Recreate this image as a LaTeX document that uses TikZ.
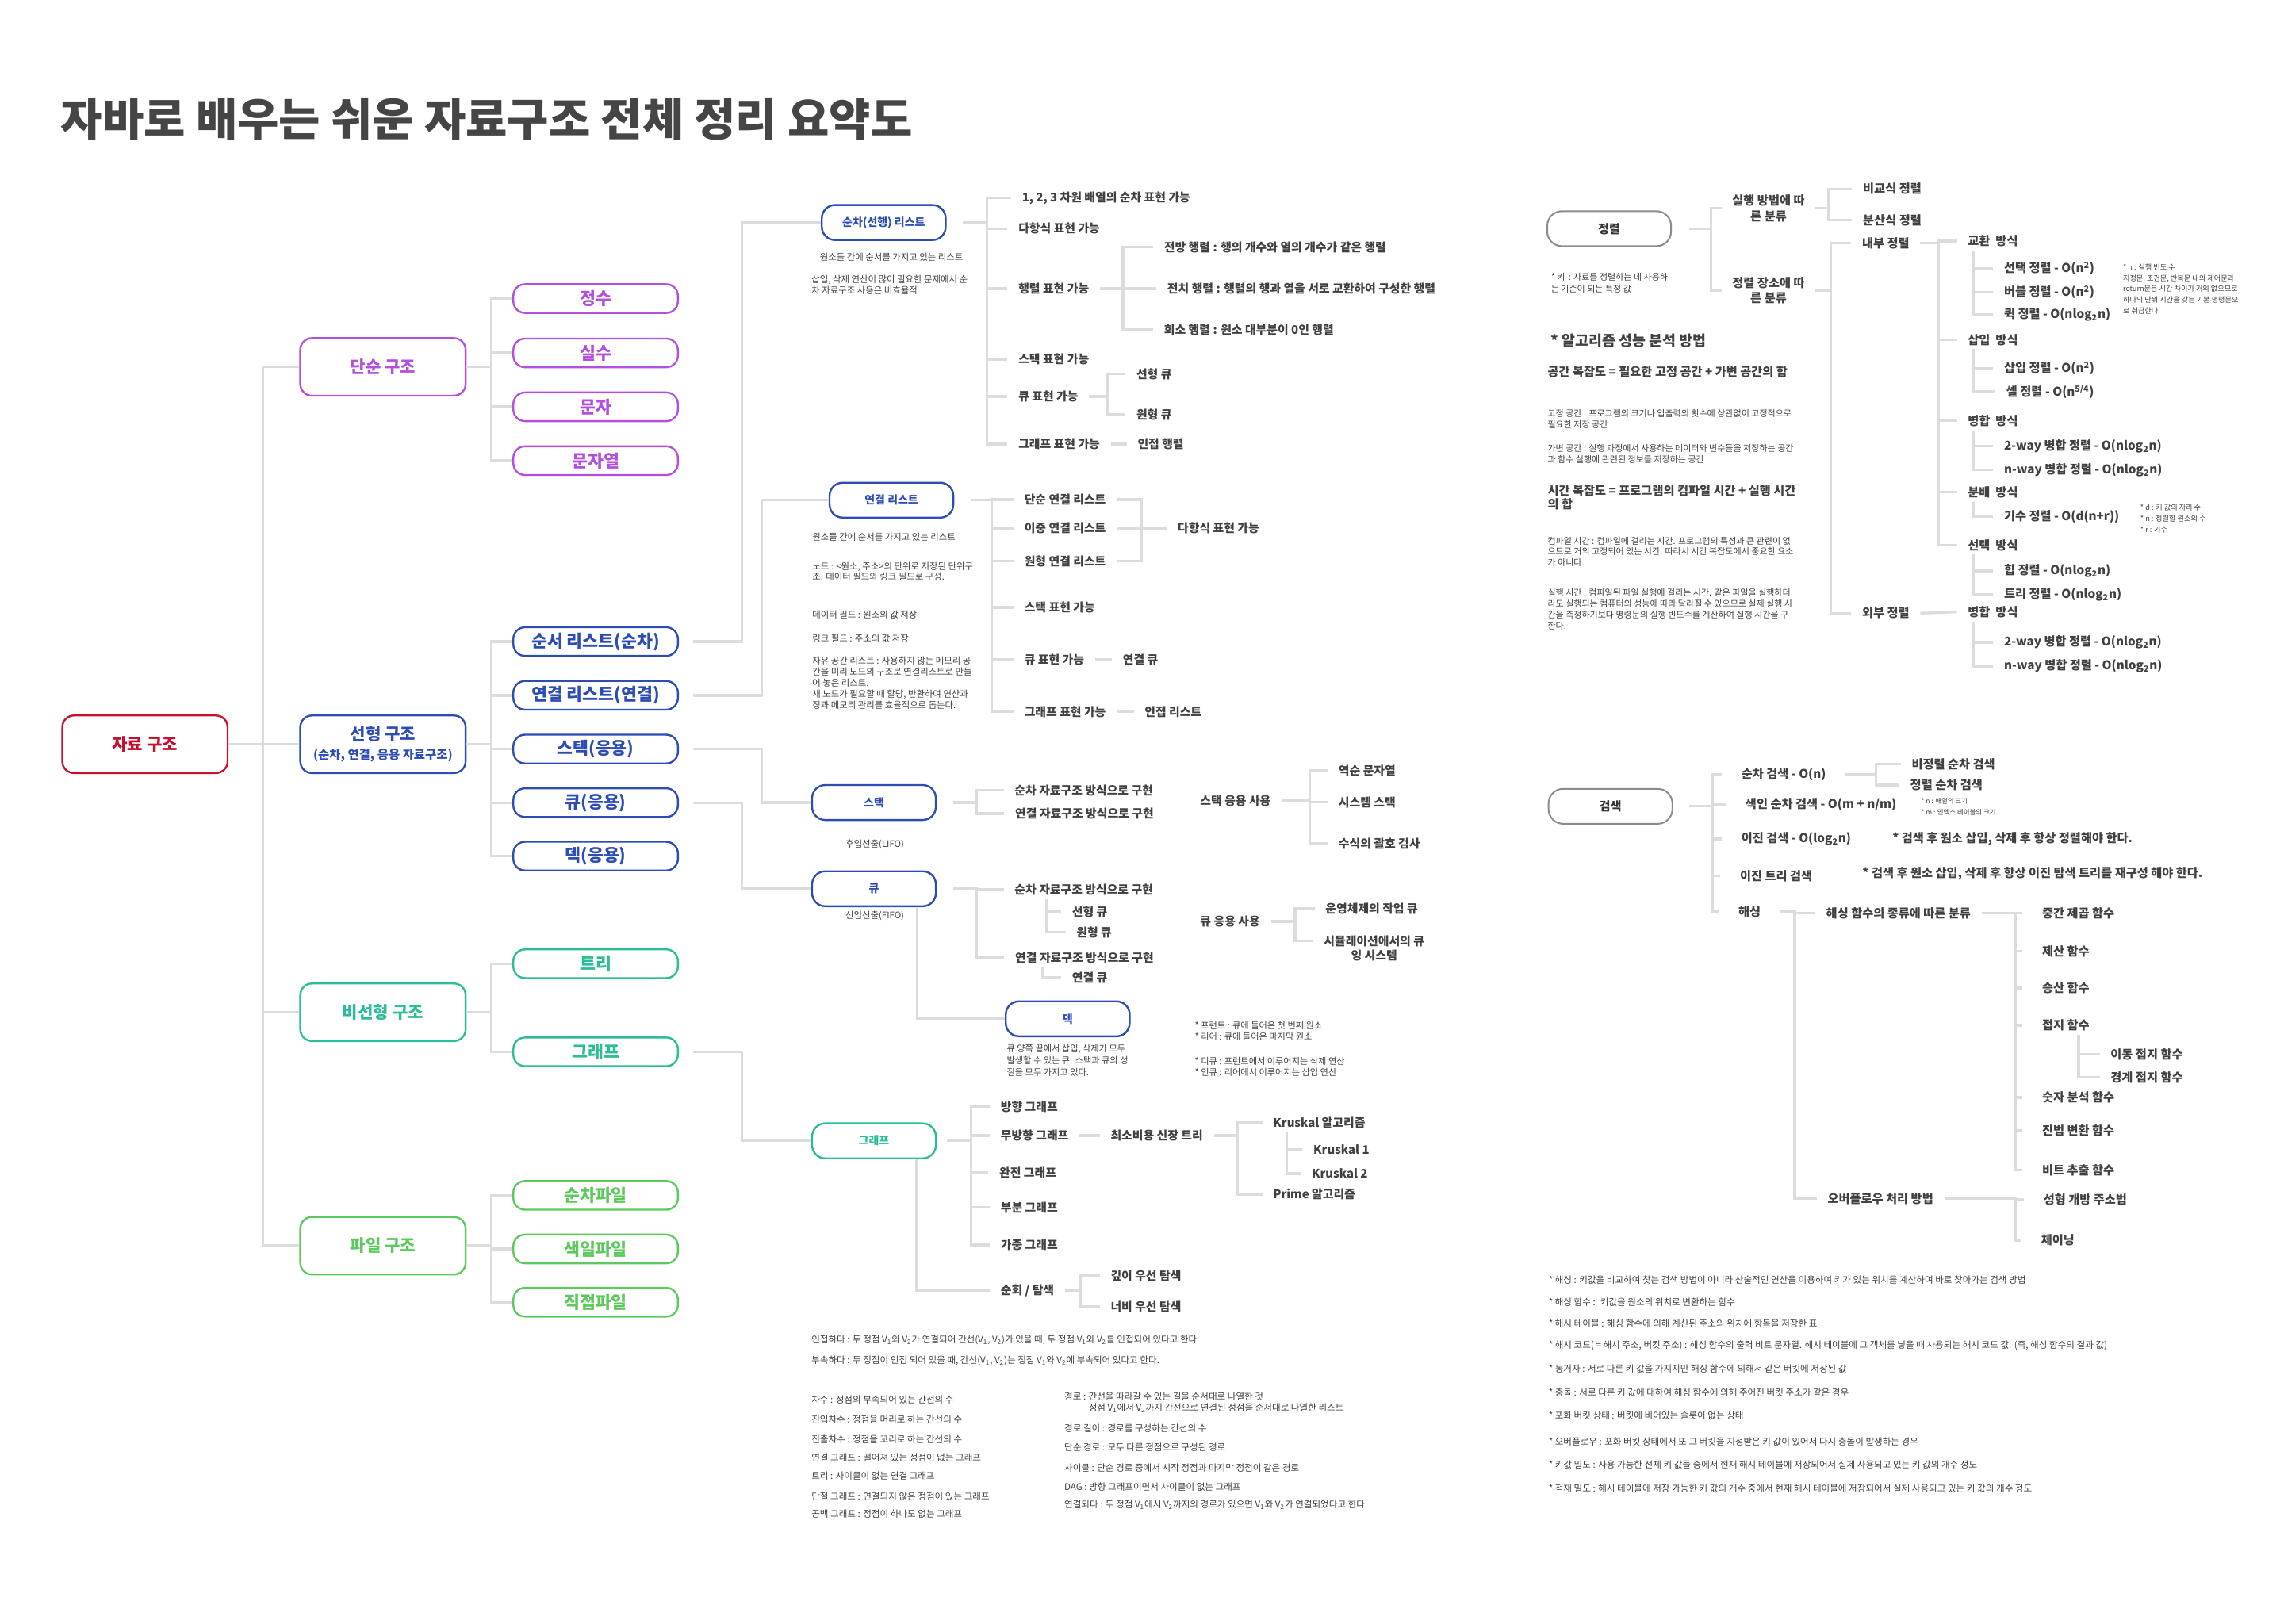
\documentclass[tikz,border=0pt]{standalone}
\usepackage{fontspec}
\setmainfont{Noto Sans CJK KR}
\definecolor{cred}{HTML}{C8102E}
\definecolor{cpur}{HTML}{B24FDE}
\definecolor{cblu}{HTML}{2D4DB5}
\definecolor{cteal}{HTML}{2BBD97}
\definecolor{cgrn}{HTML}{5BC95B}
\definecolor{lc}{HTML}{DCDCDC}
\definecolor{tc}{HTML}{404040}
\definecolor{gbd}{HTML}{8C8C8C}
\definecolor{gtx}{HTML}{333333}
\definecolor{ttl}{HTML}{454545}
\newcommand\brc[4][0pt]{\draw[cline] ([xshift=#1]#2.east) -- (#2.east -| #3) |- (#4.west);}
\newcommand\subbr[3]{\draw[cline] ([yshift=-2pt]#1.south -| #2) |- (#3.west);}
\newcommand\Vs[1]{V\textsubscript{#1}}
\newcommand\sq{\textsuperscript{2}}
\newcommand\lgn{nlog\textsubscript{2}n}
\begin{document}
\begin{tikzpicture}[x=1pt,y=-1pt,
 cline/.style={draw=lc, line width=1.8pt},
 lab/.style={anchor=west, inner sep=0.5pt, outer xsep=7pt, xshift=-7.5pt, text=tc, font=\fontsize{8.1}{10}\selectfont\bfseries},
 labr/.style={lab, font=\fontsize{8.3}{10.5}\selectfont\bfseries},
 labw/.style={labr, outer xsep=13pt, xshift=-13.5pt},
 note/.style={anchor=west, inner sep=0pt, align=left, text=tc, font=\fontsize{6.2}{7.5}\selectfont},
 hnote/.style={note, font=\fontsize{6.3}{7}\selectfont},
 box1/.style={draw, rounded corners=8pt, line width=1.3pt, minimum width=113.5pt, minimum height=39.5pt, inner sep=0pt, align=center, font=\fontsize{11.5}{13}\selectfont\bfseries},
 box2/.style={draw, rounded corners=8pt, line width=1.3pt, minimum width=113pt, minimum height=19.7pt, inner sep=0pt, font=\fontsize{11.8}{13}\selectfont\bfseries},
 box3/.style={draw=cblu, text=cblu, rounded corners=9pt, line width=1.3pt, minimum width=85pt, minimum height=24pt, inner sep=0pt, font=\fontsize{7.6}{9}\selectfont\bfseries},
 gbox/.style={box3, draw=gbd, text=gtx, rounded corners=10pt, line width=1.1pt, font=\fontsize{8.3}{9.6}\selectfont\bfseries}
]
\fill[white] (0,0) rectangle (1568,1115);
\path[use as bounding box] (0,0) rectangle (1568,1115);

% title
\node[anchor=west, inner sep=0pt, text=ttl, font=\fontsize{31}{34}\selectfont\bfseries] (title) at (41.7,81.6) {자바로 배우는 쉬운 자료구조 전체 정리 요약도};

% ---------- left tree ----------
\node[box1, draw=cred, text=cred] (root) at (99.5,511) {자료 구조};
\node[box1, draw=cpur, text=cpur] (simp) at (262.9,251.9) {단순 구조};
\node[box1, draw=cblu, text=cblu] (lin) at (262.9,511) {선형 구조\\{\fontsize{8.4}{9}\selectfont (순차, 연결, 응용 자료구조)}};
\node[box1, draw=cteal, text=cteal] (nonlin) at (262.9,695) {비선형 구조};
\node[box1, draw=cgrn, text=cgrn] (filest) at (262.9,855.3) {파일 구조};

\node[box2, draw=cpur, text=cpur] (int) at (408.9,205) {정수};
\node[box2, draw=cpur, text=cpur] (real) at (408.9,242.3) {실수};
\node[box2, draw=cpur, text=cpur] (chr) at (408.9,279.3) {문자};
\node[box2, draw=cpur, text=cpur] (str) at (408.9,316.3) {문자열};
\node[box2, draw=cblu, text=cblu] (ordl) at (408.9,440.5) {순서 리스트(순차)};
\node[box2, draw=cblu, text=cblu] (lnkl) at (408.9,477.4) {연결 리스트(연결)};
\node[box2, draw=cblu, text=cblu] (stk) at (408.9,514.3) {스택(응용)};
\node[box2, draw=cblu, text=cblu] (que) at (408.9,551.1) {큐(응용)};
\node[box2, draw=cblu, text=cblu] (deq) at (408.9,587.8) {덱(응용)};
\node[box2, draw=cteal, text=cteal] (tree) at (408.9,661.7) {트리};
\node[box2, draw=cteal, text=cteal] (grph) at (408.9,722.2) {그래프};
\node[box2, draw=cgrn, text=cgrn] (sfile) at (408.9,820.7) {순차파일};
\node[box2, draw=cgrn, text=cgrn] (ifile) at (408.9,857.5) {색일파일};
\node[box2, draw=cgrn, text=cgrn] (dfile) at (408.9,894.1) {직접파일};

\coordinate (Ta) at (180.6,0);
\coordinate (Tb) at (337.2,0);
\coordinate (Tc) at (509.5,0);
\coordinate (Td) at (522.8,0);
\brc{root}{Ta}{simp}
\brc{root}{Ta}{lin}
\brc{root}{Ta}{nonlin}
\brc{root}{Ta}{filest}
\brc{simp}{Tb}{int}
\brc{simp}{Tb}{real}
\brc{simp}{Tb}{chr}
\brc{simp}{Tb}{str}
\brc{lin}{Tb}{ordl}
\brc{lin}{Tb}{lnkl}
\brc{lin}{Tb}{stk}
\brc{lin}{Tb}{que}
\brc{lin}{Tb}{deq}
\brc{nonlin}{Tb}{tree}
\brc{nonlin}{Tb}{grph}
\brc{filest}{Tb}{sfile}
\brc{filest}{Tb}{ifile}
\brc{filest}{Tb}{dfile}

% ---------- level 3 boxes ----------
\node[box3] (seqbox) at (606.7,152.8) {순차(선행) 리스트};
\node[box3] (linkbox) at (612,343.4) {연결 리스트};
\node[box3] (stackbox) at (600,551) {스택};
\node[box3] (queuebox) at (600,610.2) {큐};
\node[box3] (dequebox) at (733,699.5) {덱};
\node[box3, draw=cteal, text=cteal] (graphbox) at (600,783.3) {그래프};
\brc[10pt]{ordl}{Tc}{seqbox}
\brc[10pt]{lnkl}{Td}{linkbox}
\brc[10pt]{stk}{Td}{stackbox}
\brc[10pt]{que}{Tc}{queuebox}
\brc[10pt]{grph}{Tc}{graphbox}

% sequential list
\node[note] (n1) at (562.7,176.4) {원소들 간에 순서를 가지고 있는 리스트};
\node[note, font=\fontsize{6.2}{7.3}\selectfont] (n2) at (557,195.6) {삽입, 삭제 연산이 많이 필요한 문제에서 순\\차 자료구조 사용은 비효율적};
\coordinate (T1) at (677.7,0);
\node[lab] (s1) at (701.7,136) {1, 2, 3 차원 배열의 순차 표현 가능};
\node[lab] (s2) at (699.2,157) {다항식 표현 가능};
\node[lab] (s3) at (699.2,198.2) {행렬 표현 가능};
\node[lab] (s4) at (699.2,246.8) {스택 표현 가능};
\node[lab] (s5) at (699.2,272.2) {큐 표현 가능};
\node[lab] (s6) at (699.2,304.9) {그래프 표현 가능};
\brc[11pt]{seqbox}{T1}{s1}
\brc[11pt]{seqbox}{T1}{s2}
\brc[11pt]{seqbox}{T1}{s3}
\brc[11pt]{seqbox}{T1}{s4}
\brc[11pt]{seqbox}{T1}{s5}
\brc[11pt]{seqbox}{T1}{s6}
\coordinate (T2) at (770.9,0);
\node[lab] (s3a) at (799.2,169.7) {전방 행렬 : 행의 개수와 열의 개수가 같은 행렬};
\node[lab] (s3b) at (801.4,198.2) {전치 행렬 : 행렬의 행과 열을 서로 교환하여 구성한 행렬};
\node[lab] (s3c) at (799.2,226.5) {회소 행렬 : 원소 대부분이 0인 행렬};
\brc{s3}{T2}{s3a}
\brc{s3}{T2}{s3b}
\brc{s3}{T2}{s3c}
\coordinate (T3) at (760.3,0);
\node[lab] (s5a) at (780.2,256.8) {선형 큐};
\node[lab] (s5b) at (780.2,284.6) {원형 큐};
\brc{s5}{T3}{s5a}
\brc{s5}{T3}{s5b}
\node[lab] (s6a) at (781,304.9) {인접 행렬};
\draw[cline] (s6.east) -- (s6a.west);

% linked list
\node[note] (n3) at (557.5,368.7) {원소들 간에 순서를 가지고 있는 리스트};
\node[note, font=\fontsize{6.2}{7.4}\selectfont] (n4) at (557.5,392.4) {노드 : <원소, 주소>의 단위로 저장된 단위구\\조. 데이터 필드와 링크 필드로 구성.};
\node[note] (n5) at (557.5,421.9) {데이터 필드 : 원소의 값 저장};
\node[note] (n6) at (557.5,438.6) {링크 필드 : 주소의 값 저장};
\node[note, font=\fontsize{6.2}{7.6}\selectfont] (n7) at (557.5,468.8) {자유 공간 리스트 : 사용하지 않는 메모리 공\\간을 미리 노드의 구조로 연결리스트로 만들\\어 놓은 리스트.\\새 노드가 필요할 때 할당, 반환하여 연산과\\정과 메모리 관리를 효율적으로 돕는다.};
\coordinate (T4) at (680.9,0);
\node[lab] (l1) at (703.3,343) {단순 연결 리스트};
\node[lab] (l2) at (703.3,362.6) {이중 연결 리스트};
\node[lab] (l3) at (703.3,385.2) {원형 연결 리스트};
\node[lab] (l4) at (703.3,417) {스택 표현 가능};
\node[lab] (l5) at (703.3,452.7) {큐 표현 가능};
\node[lab] (l6) at (703.3,488.7) {그래프 표현 가능};
\brc[11pt]{linkbox}{T4}{l1}
\brc[11pt]{linkbox}{T4}{l2}
\brc[11pt]{linkbox}{T4}{l3}
\brc[11pt]{linkbox}{T4}{l4}
\brc[11pt]{linkbox}{T4}{l5}
\brc[11pt]{linkbox}{T4}{l6}
\node[lab] (l5a) at (770.9,452.7) {연결 큐};
\node[lab] (l6a) at (785.8,488.7) {인접 리스트};
\draw[cline] (l5.east) -- (l5a.west);
\draw[cline] (l6.east) -- (l6a.west);
\coordinate (T5) at (783.7,0);
\node[lab] (l7) at (808.6,362.6) {다항식 표현 가능};
\brc{l1}{T5}{l7}
\brc{l2}{T5}{l7}
\brc{l3}{T5}{l7}

% stack
\node[note, anchor=center] (n8) at (600.6,580) {후입선출(LIFO)};
\coordinate (T6) at (670.6,0);
\node[lab] (st1) at (696.6,542.6) {순차 자료구조 방식으로 구현};
\node[lab] (st2) at (697,558.6) {연결 자료구조 방식으로 구현};
\brc[11pt]{stackbox}{T6}{st1}
\brc[11pt]{stackbox}{T6}{st2}
\node[lab] (sa) at (824,549.8) {스택 응용 사용};
\coordinate (T7) at (899,0);
\node[lab] (sa1) at (919,529) {역순 문자열};
\node[lab] (sa2) at (919,550.8) {시스템 스택};
\node[lab] (sa3) at (919,579) {수식의 괄호 검사};
\brc{sa}{T7}{sa1}
\brc{sa}{T7}{sa2}
\brc{sa}{T7}{sa3}

% queue
\node[note, anchor=center] (n9) at (600.6,629) {선입선출(FIFO)};
\node[lab] (q1) at (696.6,610.7) {순차 자료구조 방식으로 구현};
\node[lab] (q2) at (697,657.5) {연결 자료구조 방식으로 구현};
\brc[11pt]{queuebox}{T6}{q1}
\brc[11pt]{queuebox}{T6}{q2}
\coordinate (T8) at (718.5,0);
\node[lab] (q1a) at (736,626) {선형 큐};
\node[lab] (q1b) at (739,640) {원형 큐};
\subbr{q1}{T8}{q1a}
\subbr{q1}{T8}{q1b}
\coordinate (T9) at (716,0);
\node[lab] (q2a) at (736,671) {연결 큐};
\subbr{q2}{T9}{q2a}
\node[lab] (qa) at (824,632.7) {큐 응용 사용};
\coordinate (T10) at (889,0);
\node[lab] (qa1) at (910,624) {운영체제의 작업 큐};
\node[lab, align=center] (qa2) at (908.9,651) {시뮬레이션에서의 큐\\잉 시스템};
\brc{qa}{T10}{qa1}
\draw[cline] (qa.east) -- (qa.east -| T10) |- ([yshift=5pt]qa2.west);

% deque
\coordinate (T11) at (629.7,0);
\draw[cline] (queuebox.south -| T11) |- (dequebox.west);
\node[note, font=\fontsize{6.1}{8}\selectfont] (n10) at (691,728) {큐 양쪽 끝에서 삽입, 삭제가 모두\\발생할 수 있는 큐. 스택과 큐의 성\\질을 모두 가지고 있다.};
\node[note, font=\fontsize{6.1}{8}\selectfont] (n11) at (820,708) {* 프런트 : 큐에 들어온 첫 번째 원소\\* 리어 : 큐에 들어온 마지막 원소};
\node[note, font=\fontsize{6.1}{8}\selectfont] (n12) at (820,732.5) {* 디큐 : 프런트에서 이루어지는 삭제 연산\\* 인큐 : 리어에서 이루어지는 삽입 연산};

% graph
\coordinate (T12) at (666.8,0);
\node[lab] (g1) at (687,759.8) {방향 그래프};
\node[lab] (g2) at (687,779.7) {무방향 그래프};
\node[lab] (g3) at (686.1,805.3) {완전 그래프};
\node[lab] (g4) at (687,828.9) {부분 그래프};
\node[lab] (g5) at (687,854.7) {가중 그래프};
\brc[7pt]{graphbox}{T12}{g1}
\brc[7pt]{graphbox}{T12}{g2}
\brc[7pt]{graphbox}{T12}{g3}
\brc[7pt]{graphbox}{T12}{g4}
\brc[7pt]{graphbox}{T12}{g5}
\node[lab] (g2a) at (762.5,779.7) {최소비용 신장 트리};
\draw[cline] (g2.east) -- (g2a.west);
\coordinate (T13) at (849.7,0);
\node[lab] (k1) at (874,770.8) {Kruskal 알고리즘};
\node[lab] (k2) at (874,819.9) {Prime 알고리즘};
\brc{g2a}{T13}{k1}
\brc{g2a}{T13}{k2}
\coordinate (T14) at (883.3,0);
\node[lab] (k1a) at (901.7,789.3) {Kruskal 1};
\node[lab] (k1b) at (900.5,805.7) {Kruskal 2};
\subbr{k1}{T14}{k1a}
\subbr{k1}{T14}{k1b}
\coordinate (T15) at (629.4,0);
\node[lab] (g6) at (687,886.1) {순회 / 탐색};
\draw[cline] (graphbox.south -| T15) |- (g6.west);
\coordinate (T16) at (741.9,0);
\node[lab] (g6a) at (762.5,875.7) {깊이 우선 탐색};
\node[lab] (g6b) at (762.5,897) {너비 우선 탐색};
\brc{g6}{T16}{g6a}
\brc{g6}{T16}{g6b}

% graph notes
\node[note, font=\fontsize{6.3}{7.5}\selectfont] (gn1) at (556.9,920) {인접하다 : 두 정점 \Vs1와 \Vs2가 연결되어 간선(\Vs1, \Vs2)가 있을 때, 두 정점 \Vs1와 \Vs2를 인접되어 있다고 한다.};
\node[note, font=\fontsize{6.3}{7.5}\selectfont] (gn2) at (556.9,934.2) {부속하다 : 두 정점이 인접 되어 있을 때, 간선(\Vs1, \Vs2)는 정점 \Vs1와 \Vs2에 부속되어 있다고 한다.};
\node[note, font=\fontsize{6.3}{7.5}\selectfont] (gn3) at (556.9,960.8) {차수 : 정점의 부속되어 있는 간선의 수};
\node[note, font=\fontsize{6.3}{7.5}\selectfont] (gn4) at (556.9,974.4) {진입차수 : 정점을 머리로 하는 간선의 수};
\node[note, font=\fontsize{6.3}{7.5}\selectfont] (gn5) at (556.9,988) {진출차수 : 정점을 꼬리로 하는 간선의 수};
\node[note, font=\fontsize{6.3}{7.5}\selectfont] (gn6) at (556.9,1000.7) {연결 그래프 : 떨어져 있는 정점이 없는 그래프};
\node[note, font=\fontsize{6.3}{7.5}\selectfont] (gn7) at (556.9,1013.4) {트리 : 사이클이 없는 연결 그래프};
\node[note, font=\fontsize{6.3}{7.5}\selectfont] (gn8) at (556.9,1027.4) {단절 그래프 : 연결되지 않은 정점이 있는 그래프};
\node[note, font=\fontsize{6.3}{7.5}\selectfont] (gn9) at (556.9,1039.4) {공백 그래프 : 정점이 하나도 없는 그래프};
\node[note, font=\fontsize{6.3}{7.5}\selectfont] (gn10) at (730.5,959) {경로 : 간선을 따라갈 수 있는 길을 순서대로 나열한 것};
\node[note, font=\fontsize{6.3}{7.5}\selectfont] (gn11) at (747.2,966.7) {정점 \Vs1에서 \Vs2까지 간선으로 연결된 정점을 순서대로 나열한 리스트};
\node[note, font=\fontsize{6.3}{7.5}\selectfont] (gn12) at (730.5,980.8) {경로 길이 : 경로를 구성하는 간선의 수};
\node[note, font=\fontsize{6.3}{7.5}\selectfont] (gn13) at (730.5,993.5) {단순 경로 : 모두 다른 정점으로 구성된 경로};
\node[note, font=\fontsize{6.3}{7.5}\selectfont] (gn14) at (730.5,1007.7) {사이클 : 단순 경로 중에서 시작 정점과 마지막 정점이 같은 경로};
\node[note, font=\fontsize{6.3}{7.5}\selectfont] (gn15) at (730.5,1020.7) {DAG : 방향 그래프이면서 사이클이 없는 그래프};
\node[note, font=\fontsize{6.3}{7.5}\selectfont] (gn16) at (730.5,1033) {연결되다 : 두 정점 \Vs1에서 \Vs2까지의 경로가 있으면 \Vs1와 \Vs2가 연결되었다고 한다.};

% ---------- sort ----------
\node[gbox] (sortbox) at (1104.7,157) {정렬};
\node[note, font=\fontsize{6}{8.2}\selectfont] (kn) at (1064.6,194.1) {* 키 \,: 자료를 정렬하는 데 사용하\\는 기준이 되는 특정 값};
\coordinate (U1) at (1174.5,0);
\node[labr, align=center] (so1) at (1189.3,143) {실행 방법에 따\\른 분류};
\node[labr, align=center] (so2) at (1189.3,199.3) {정렬 장소에 따\\른 분류};
\brc[12pt]{sortbox}{U1}{so1}
\brc[12pt]{sortbox}{U1}{so2}
\coordinate (U2) at (1255.3,0);
\node[labr] (so1a) at (1279,129.7) {비교식 정렬};
\node[labr] (so1b) at (1279,151) {분산식 정렬};
\brc{so1}{U2}{so1a}
\brc{so1}{U2}{so1b}
\coordinate (U3) at (1257,0);
\node[labr] (in) at (1278.4,167) {내부 정렬};
\node[labr] (ex) at (1278.4,421) {외부 정렬};
\brc{so2}{U3}{in}
\brc{so2}{U3}{ex}
\coordinate (U4) at (1330.6,0);
\node[labr] (m1) at (1351,165.5) {교환~ 방식};
\node[labr] (m2) at (1351,233.2) {삽입~ 방식};
\node[labr] (m3) at (1351,288.9) {병합~ 방식};
\node[labr] (m4) at (1351,337.9) {분배~ 방식};
\node[labr] (m5) at (1351,374.2) {선택~ 방식};
\brc{in}{U4}{m1}
\brc{in}{U4}{m2}
\brc{in}{U4}{m3}
\brc{in}{U4}{m4}
\brc{in}{U4}{m5}
\node[labr] (m6) at (1351,420.1) {병합~ 방식};
\draw[cline] (ex.east) -- (m6.west);
\coordinate (U5) at (1355,0);
\node[labr] (m1a) at (1375.8,184.2) {선택 정렬 - O(n\sq)};
\node[labr] (m1b) at (1375.8,200.5) {버블 정렬 - O(n\sq)};
\node[labr] (m1c) at (1375.8,216) {퀵 정렬 - O(\lgn)};
\subbr{m1}{U5}{m1a}
\subbr{m1}{U5}{m1b}
\subbr{m1}{U5}{m1c}
\node[labr] (m2a) at (1375.8,253.1) {삽입 정렬 - O(n\sq)};
\node[labr] (m2b) at (1377.4,268.9) {셀 정렬 - O(n\textsuperscript{5/4})};
\subbr{m2}{U5}{m2a}
\subbr{m2}{U5}{m2b}
\node[labr] (m3a) at (1375.8,306.3) {2-way 병합 정렬 - O(\lgn)};
\node[labr] (m3b) at (1375.8,322.6) {n-way 병합 정렬 - O(\lgn)};
\subbr{m3}{U5}{m3a}
\subbr{m3}{U5}{m3b}
\node[labr] (m4a) at (1375.8,354.8) {기수 정렬 - O(d(n+r))};
\subbr{m4}{U5}{m4a}
\node[labr] (m5a) at (1375.8,392) {힙 정렬 - O(\lgn)};
\node[labr] (m5b) at (1375.8,408.3) {트리 정렬 - O(\lgn)};
\subbr{m5}{U5}{m5a}
\subbr{m5}{U5}{m5b}
\node[labr] (m6a) at (1375.8,441) {2-way 병합 정렬 - O(\lgn)};
\node[labr] (m6b) at (1375.8,457.3) {n-way 병합 정렬 - O(\lgn)};
\subbr{m6}{U5}{m6a}
\subbr{m6}{U5}{m6b}
\node[note, font=\fontsize{5}{7.4}\selectfont] (tn1) at (1457.3,198.4) {* n : 실행 빈도 수\\지정문, 조건문, 반복문 내의 제어문과\\return문은 시간 차이가 거의 없으므로\\하나의 단위 시간을 갖는 기본 명령문으\\로 취급한다.};
\node[note, font=\fontsize{5}{7.7}\selectfont] (tn2) at (1469.2,356) {* d : 키 값의 자리 수\\* n : 정렬할 원소의 수\\* r : 기수};

% algorithm analysis
\node[anchor=west, inner sep=0pt, text=tc, font=\fontsize{10}{12}\selectfont\bfseries] (aa) at (1064.6,234) {* 알고리즘 성능 분석 방법};
\node[anchor=west, inner sep=0pt, text=tc, font=\fontsize{8.3}{10}\selectfont\bfseries] (sp) at (1062.3,255) {공간 복잡도 = 필요한 고정 공간 + 가변 공간의 합};
\node[note, font=\fontsize{6}{8}\selectfont] (sp1) at (1062.3,287.6) {고정 공간 : 프로그램의 크기나 입출력의 횟수에 상관없이 고정적으로\\필요한 저장 공간};
\node[note, font=\fontsize{6}{7.4}\selectfont] (sp2) at (1062.3,311.7) {가변 공간 : 실행 과정에서 사용하는 데이터와 변수들을 저장하는 공간\\과 함수 실행에 관련된 정보를 저장하는 공간};
\node[anchor=west, inner sep=0pt, align=left, text=tc, font=\fontsize{8.3}{9.2}\selectfont\bfseries] (tm) at (1062.3,341.6) {시간 복잡도 = 프로그램의 컴파일 시간 + 실행 시간\\의 합};
\node[note, font=\fontsize{6}{7.4}\selectfont] (tm1) at (1062.3,378.8) {컴파일 시간 : 컴파일에 걸리는 시간. 프로그램의 특성과 큰 관련이 없\\으므로 거의 고정되어 있는 시간. 따라서 시간 복잡도에서 중요한 요소\\가 아니다.};
\node[note, font=\fontsize{6}{7.7}\selectfont] (tm2) at (1062.3,418.4) {실행 시간 : 컴파일된 파일 실행에 걸리는 시간. 같은 파일을 실행하더\\라도 실행되는 컴퓨터의 성능에 따라 달라질 수 있으므로 실제 실행 시\\간을 측정하기보다 명령문의 실행 빈도수를 계산하여 실행 시간을 구\\한다.};

% ---------- search ----------
\node[gbox] (srchbox) at (1105.6,553.6) {검색};
\coordinate (V1) at (1175.5,0);
\node[labw] (r1) at (1203,531.7) {순차 검색 - O(n)};
\node[labw] (r2) at (1205.8,552.6) {색인 순차 검색 - O(m + n/m)};
\node[labw] (r3) at (1203,576) {이진 검색 - O(log\textsubscript{2}n)};
\node[labw] (r4) at (1202,601.5) {이진 트리 검색};
\node[labw] (r5) at (1201,626) {해싱};
\brc[11pt]{srchbox}{V1}{r1}
\brc[11pt]{srchbox}{V1}{r2}
\brc[11pt]{srchbox}{V1}{r3}
\brc[11pt]{srchbox}{V1}{r4}
\brc[11pt]{srchbox}{V1}{r5}
\coordinate (V2) at (1287.7,0);
\node[labr] (r1a) at (1312.4,524.7) {비정렬 순차 검색};
\node[labr] (r1b) at (1311.4,539) {정렬 순차 검색};
\brc{r1}{V2}{r1a}
\brc{r1}{V2}{r1b}
\node[note, font=\fontsize{4.6}{7.8}\selectfont] (rn) at (1318.7,553.7) {* n : 배열의 크기\\* m : 인덱스 테이블의 크기};
\node[anchor=west, inner sep=0pt, text=tc, font=\fontsize{8.3}{10}\selectfont\bfseries] (rn3) at (1299,576) {* 검색 후 원소 삽입, 삭제 후 항상 정렬해야 한다.};
\node[anchor=west, inner sep=0pt, text=tc, font=\fontsize{8.3}{10}\selectfont\bfseries] (rn4) at (1278.4,599.7) {* 검색 후 원소 삽입, 삭제 후 항상 이진 탐색 트리를 재구성 해야 한다.};
\coordinate (V3) at (1232,0);
\node[labr] (h1) at (1253.7,627) {해싱 함수의 종류에 따른 분류};
\node[labr] (h2) at (1254.7,823) {오버플로우 처리 방법};
\brc{r5}{V3}{h1}
\brc{r5}{V3}{h2}
\coordinate (V4) at (1383.4,0);
\node[labw] (hf1) at (1409.5,627) {중간 제곱 함수};
\node[labw] (hf2) at (1409.5,653) {제산 함수};
\node[labw] (hf3) at (1409.5,678.3) {승산 함수};
\node[labw] (hf4) at (1409.5,704) {접지 함수};
\node[labw] (hf5) at (1409.5,753.5) {숫자 분석 함수};
\node[labw] (hf6) at (1409.5,776.3) {진법 변환 함수};
\node[labw] (hf7) at (1409.5,803.3) {비트 추출 함수};
\brc{h1}{V4}{hf1}
\brc{h1}{V4}{hf2}
\brc{h1}{V4}{hf3}
\brc{h1}{V4}{hf4}
\brc{h1}{V4}{hf5}
\brc{h1}{V4}{hf6}
\brc{h1}{V4}{hf7}
\coordinate (V5) at (1427,0);
\node[labr] (hf4a) at (1449,724) {이동 접지 함수};
\node[labr] (hf4b) at (1449,739.5) {경계 접지 함수};
\subbr{hf4}{V5}{hf4a}
\subbr{hf4}{V5}{hf4b}
\node[labw] (ov1) at (1410.4,823.4) {성형 개방 주소법};
\node[labw] (ov2) at (1408.8,851.6) {체이닝};
\brc{h2}{V4}{ov1}
\brc{h2}{V4}{ov2}

% hashing notes
\node[hnote] (hn1) at (1063,879) {* 해싱 : 키값을 비교하여 찾는 검색 방법이 아니라 산술적인 연산을 이용하여 키가 있는 위치를 계산하여 바로 찾아가는 검색 방법};
\node[hnote] (hn2) at (1063,894) {* 해싱 함수 : ~키값을 원소의 위치로 변환하는 함수};
\node[hnote] (hn3) at (1063,909) {* 해시 테이블 : 해싱 함수에 의해 계산된 주소의 위치에 항목을 저장한 표};
\node[hnote] (hn4) at (1063,924) {* 해시 코드( = 해시 주소, 버킷 주소) : 해싱 함수의 출력 비트 문자열. 해시 테이블에 그 객체를 넣을 때 사용되는 해시 코드 값. (즉, 해싱 함수의 결과 값)};
\node[hnote] (hn5) at (1063,940) {* 동거자 : 서로 다른 키 값을 가지지만 해싱 함수에 의해서 같은 버킷에 저장된 값};
\node[hnote] (hn6) at (1063,956) {* 충돌 : 서로 다른 키 값에 대하여 해싱 함수에 의해 주어진 버킷 주소가 같은 경우};
\node[hnote] (hn7) at (1063,972) {* 포화 버킷 상태 : 버킷에 비어있는 슬롯이 없는 상태};
\node[hnote] (hn8) at (1063,990) {* 오버플로우 : 포화 버킷 상태에서 또 그 버킷을 지정받은 키 값이 있어서 다시 충돌이 발생하는 경우};
\node[hnote] (hn9) at (1063,1005.6) {* 키값 밀도 : 사용 가능한 전체 키 값들 중에서 현재 해시 테이블에 저장되어서 실제 사용되고 있는 키 값의 개수 정도};
\node[hnote] (hn10) at (1063,1022) {* 적재 밀도 : 해시 테이블에 저장 가능한 키 값의 개수 중에서 현재 해시 테이블에 저장되어서 실제 사용되고 있는 키 값의 개수 정도};
\end{tikzpicture}
\end{document}
